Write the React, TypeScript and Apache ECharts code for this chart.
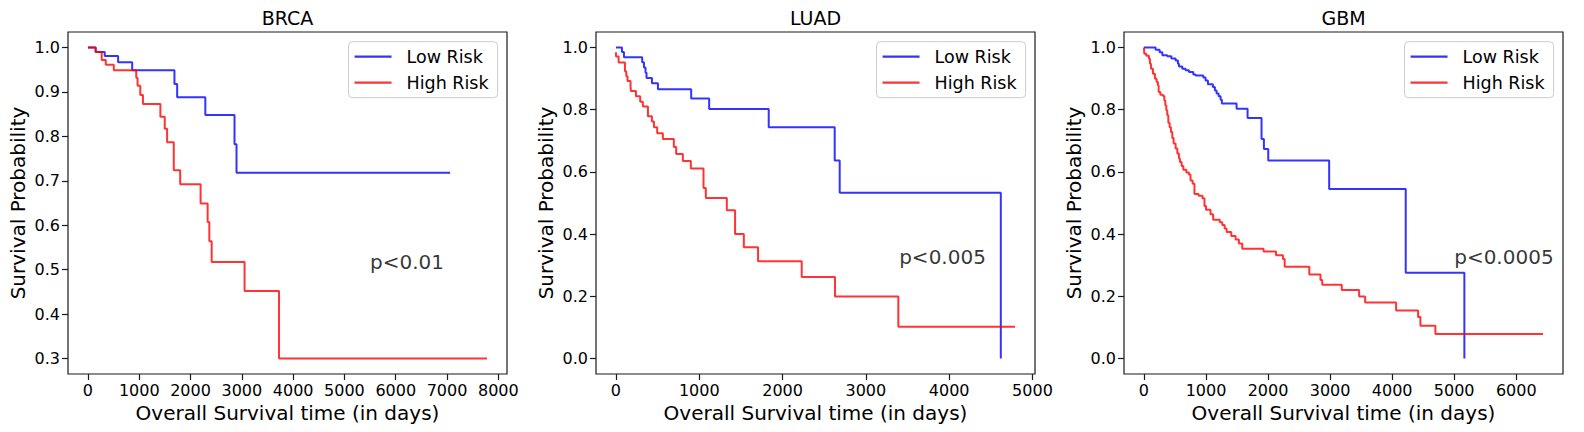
import React, { useEffect, useRef } from 'react';
import * as echarts from 'echarts';

const FONT = 'DejaVu Sans';
const PANEL_TITLES = ['BRCA', 'LUAD', 'GBM'];
const X_AXIS_NAME = 'Overall Survival time (in days)';
const Y_AXIS_NAME = 'Survival Probability';
const SERIES_NAMES = ['Low Risk', 'High Risk'];
const P_TEXTS = ['p<0.01', 'p<0.005', 'p<0.0005'];
const P_X = [5500, 3400, 5000];
const P_Y = [0.5, 0.3, 0.3];

// BRCA
const BRCA_LOW_T = [0, 150, 327, 588, 862, 1686, 1739, 2288, 2857, 2896, 7060];
const BRCA_LOW_S = [1.0, 0.99, 0.981, 0.967, 0.949, 0.918, 0.888, 0.848, 0.782, 0.718, 0.718];
const BRCA_HIGH_T = [0, 150, 268, 347, 504, 941, 967, 1020, 1072, 1412, 1497, 1543, 1673, 1798, 2196, 2333, 2366, 2412, 3053, 3725, 7780];
const BRCA_HIGH_S = [1.0, 0.99, 0.972, 0.961, 0.949, 0.932, 0.914, 0.893, 0.873, 0.844, 0.817, 0.787, 0.724, 0.692, 0.649, 0.607, 0.564, 0.517, 0.452, 0.3, 0.3];

// LUAD
const LUAD_LOW_T = [0, 72, 96, 315, 336, 355, 367, 432, 504, 903, 1119, 1834, 2626, 2686, 4620];
const LUAD_LOW_S = [1.0, 0.986, 0.969, 0.953, 0.936, 0.919, 0.902, 0.885, 0.866, 0.836, 0.802, 0.744, 0.637, 0.533, 0.0];
const LUAD_HIGH_T = [0, 1, 32, 108, 124, 139, 175, 180, 240, 291, 323, 384, 432, 456, 495, 563, 695, 723, 803, 899, 1051, 1079, 1331, 1430, 1535, 1706, 2230, 2630, 3390, 4791];
const LUAD_HIGH_S = [0.985, 0.971, 0.952, 0.924, 0.908, 0.892, 0.876, 0.86, 0.843, 0.826, 0.81, 0.779, 0.762, 0.744, 0.724, 0.706, 0.68, 0.658, 0.635, 0.611, 0.548, 0.516, 0.477, 0.4, 0.358, 0.313, 0.262, 0.199, 0.102, 0.102];

// GBM
const GBM_LOW_T = [0, 188, 253, 296, 376, 441, 510, 548, 564, 618, 671, 725, 795, 833, 956, 993, 1031, 1111, 1143, 1171, 1203, 1235, 1256, 1493, 1670, 1895, 1933, 2003, 2985, 4219, 5164];
const GBM_LOW_S = [1.0, 0.993, 0.985, 0.975, 0.972, 0.965, 0.958, 0.948, 0.939, 0.932, 0.927, 0.921, 0.913, 0.91, 0.904, 0.894, 0.882, 0.873, 0.862, 0.852, 0.843, 0.832, 0.82, 0.803, 0.773, 0.706, 0.674, 0.637, 0.545, 0.276, 0.0];
const GBM_HIGH_T = [0, 5, 38, 81, 97, 113, 145, 177, 204, 225, 237, 264, 306, 328, 344, 360, 376, 393, 414, 435, 457, 478, 510, 538, 564, 580, 607, 634, 683, 725, 750, 785, 814, 881, 943, 975, 1000, 1072, 1115, 1222, 1262, 1300, 1332, 1407, 1477, 1530, 1584, 1927, 2129, 2240, 2268, 2665, 2845, 2873, 3188, 3468, 3565, 4064, 4418, 4456, 4697, 6432];
const GBM_HIGH_S = [1.0, 0.98, 0.974, 0.964, 0.948, 0.932, 0.916, 0.9, 0.889, 0.878, 0.857, 0.848, 0.844, 0.83, 0.814, 0.798, 0.782, 0.758, 0.744, 0.728, 0.709, 0.691, 0.675, 0.659, 0.643, 0.632, 0.619, 0.607, 0.598, 0.592, 0.572, 0.562, 0.529, 0.523, 0.515, 0.49, 0.478, 0.464, 0.446, 0.438, 0.429, 0.418, 0.407, 0.394, 0.383, 0.37, 0.353, 0.344, 0.332, 0.32, 0.295, 0.27, 0.252, 0.237, 0.22, 0.199, 0.18, 0.154, 0.133, 0.105, 0.079, 0.079];

const BRCA_X_TICKS = [0, 1000, 2000, 3000, 4000, 5000, 6000, 7000, 8000];
const LUAD_X_TICKS = [0, 1000, 2000, 3000, 4000, 5000];
const GBM_X_TICKS = [0, 1000, 2000, 3000, 4000, 5000, 6000];
const BRCA_Y_TICKS = [0.3, 0.4, 0.5, 0.6, 0.7, 0.8, 0.9, 1.0];
const PROB_Y_TICKS = [0.0, 0.2, 0.4, 0.6, 0.8, 1.0];

const PANELS = [
  { low: [BRCA_LOW_T, BRCA_LOW_S], high: [BRCA_HIGH_T, BRCA_HIGH_S], xt: BRCA_X_TICKS, yt: BRCA_Y_TICKS },
  { low: [LUAD_LOW_T, LUAD_LOW_S], high: [LUAD_HIGH_T, LUAD_HIGH_S], xt: LUAD_X_TICKS, yt: PROB_Y_TICKS },
  { low: [GBM_LOW_T, GBM_LOW_S], high: [GBM_HIGH_T, GBM_HIGH_S], xt: GBM_X_TICKS, yt: PROB_Y_TICKS },
];

const LEFTS = [68, 596, 1124];
const GRID_W = 439;
const GRID_TOP = 32;
const GRID_H = 342;
const AX = '#1a1a1a';

function pairs(t: number[], s: number[]) {
  return t.map((v, i) => [v, s[i]]);
}

function buildOption() {
  const grid: any[] = [];
  const xAxis: any[] = [];
  const yAxis: any[] = [];
  const series: any[] = [];
  const legend: any[] = [];
  const graphic: any[] = [];

  PANELS.forEach((p, i) => {
    const allT = [...p.low[0], ...p.high[0]];
    const allS = [...p.low[1], ...p.high[1]];
    const tMin = Math.min(...allT), tMax = Math.max(...allT);
    const sMin = Math.min(...allS), sMax = Math.max(...allS);
    const mx = 0.05 * (tMax - tMin);
    const my = 0.05 * (sMax - sMin);

    grid.push({
      left: LEFTS[i], top: GRID_TOP, width: GRID_W, height: GRID_H,
      show: true, borderColor: AX, borderWidth: 1.2, backgroundColor: 'transparent',
    });
    xAxis.push({
      type: 'value', gridIndex: i, min: tMin - mx, max: tMax + mx, position: 'bottom',
      axisLine: { show: false, onZero: false },
      axisTick: { show: true, length: 6, lineStyle: { color: AX, width: 1.2 }, customValues: p.xt },
      axisLabel: {
        customValues: p.xt, fontSize: 16, color: '#000', fontFamily: FONT, margin: 8,
        formatter: (v: number) => String(Math.round(v)),
      },
      splitLine: { show: false },
      name: X_AXIS_NAME, nameLocation: 'middle', nameGap: 28,
      nameTextStyle: { fontSize: 20, color: '#000', fontFamily: FONT },
    });
    yAxis.push({
      type: 'value', gridIndex: i, min: sMin - my, max: sMax + my, position: 'left',
      axisLine: { show: false, onZero: false },
      axisTick: { show: true, length: 6, lineStyle: { color: AX, width: 1.2 }, customValues: p.yt },
      axisLabel: {
        customValues: p.yt, fontSize: 16, color: '#000', fontFamily: FONT, margin: 8,
        formatter: (v: number) => v.toFixed(1),
      },
      splitLine: { show: false },
      name: Y_AXIS_NAME, nameLocation: 'middle', nameGap: 40,
      nameTextStyle: { fontSize: 20, color: '#000', fontFamily: FONT },
    });
    const mk = (name: string, color: string, d: number[][]) => ({
      type: 'line', name, xAxisIndex: i, yAxisIndex: i, step: 'end',
      data: pairs(d[0], d[1]), symbol: 'none', showSymbol: false,
      lineStyle: { color, width: 2, opacity: 0.8 }, itemStyle: { color, opacity: 0.8 },
      silent: true,
    });
    series.push(mk(SERIES_NAMES[0], '#0000ff', p.low as number[][]));
    series.push(mk(SERIES_NAMES[1], '#ff0000', p.high as number[][]));
    series.push({
      type: 'scatter', xAxisIndex: i, yAxisIndex: i, symbolSize: 0, silent: true,
      data: [[P_X[i], P_Y[i]]],
      label: {
        show: true, formatter: P_TEXTS[i], position: [0, 0], align: 'left', verticalAlign: 'bottom',
        offset: [0, 2], fontSize: 20, color: '#000', fontFamily: FONT,
      },
      z: 5,
    });
    legend.push({
      orient: 'vertical', data: SERIES_NAMES, icon: 'rect',
      right: 1584 - (LEFTS[i] + GRID_W - 9.4), top: 41.7,
      itemWidth: 37, itemHeight: 2.2, itemGap: 8,
      padding: [6, 9, 6, 6],
      borderColor: '#cccccc', borderWidth: 1, borderRadius: 4,
      backgroundColor: 'rgba(255,255,255,0.8)',
      textStyle: { fontSize: 17.5, color: '#000', fontFamily: FONT, padding: [0, 0, 0, 10] },
      selectedMode: false,
    });
    graphic.push({
      type: 'text', x: LEFTS[i] + GRID_W / 2, y: 8,
      style: {
        text: PANEL_TITLES[i], textAlign: 'center', textVerticalAlign: 'top',
        fontSize: 19, fontFamily: FONT, fill: '#000',
      },
    });
  });

  return {
    animation: false,
    backgroundColor: '#fff',
    grid, xAxis, yAxis, series, legend, graphic,
  };
}

export default function App() {
  const ref = useRef<HTMLDivElement>(null);
  useEffect(() => {
    const chart = echarts.init(ref.current!, null, { renderer: 'svg' });
    chart.setOption(buildOption() as any);
    return () => chart.dispose();
  }, []);
  return (
    <div
      ref={ref}
      style={{ position: 'fixed', left: 0, top: 0, width: 1584, height: 432, background: '#fff' }}
    />
  );
}
